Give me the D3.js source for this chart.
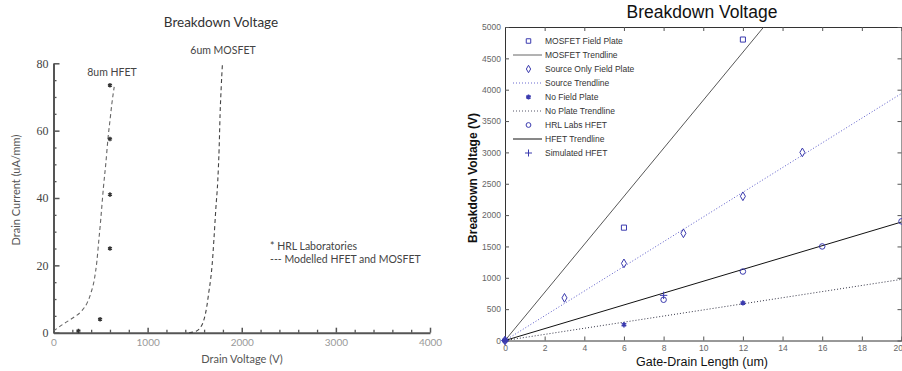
<!DOCTYPE html>
<html><head><meta charset="utf-8">
<script src="https://cdn.jsdelivr.net/npm/d3@7"></script>
<style>
html,body{margin:0;padding:0;background:#fff;}
svg{display:block;}
</style></head>
<body>
<svg id="chart" width="902" height="371"></svg>
<script>
// ---------- Left chart data ----------
const leftXTicks = [0, 1000, 2000, 3000, 4000];
const leftYTicks = [0, 20, 40, 60, 80];
const hrlPointsV = [600, 600, 600, 600, 495, 265];
const hrlPointsI = [73.5, 57.5, 41, 25, 4, 0.5];
const hfetModelV = [0, 100, 200, 300, 360, 400, 435, 460, 480, 500, 515, 530, 555, 580, 600, 620, 645];
const hfetModelI = [0.5, 2.5, 4.3, 6.5, 9, 12, 16, 21, 27, 33, 38, 43, 50, 58, 63, 68, 73];
const mosModelV = [1440, 1520, 1560, 1600, 1630, 1650, 1670, 1685, 1705, 1725, 1745, 1760, 1770, 1782, 1795];
const mosModelI = [0, 0.5, 1.5, 4, 8, 12, 16, 20, 28, 37, 45, 55, 65, 73, 80];

// ---------- Right chart data ----------
const rightXTicks = [0, 2, 4, 6, 8, 10, 12, 14, 16, 18, 20];
const rightYTicks = [0, 500, 1000, 1500, 2000, 2500, 3000, 3500, 4000, 4500, 5000];
const mosfetFpX = [6, 12];
const mosfetFpY = [1800, 4800];
const sourceFpX = [0, 3, 6, 9, 12, 15];
const sourceFpY = [0, 680, 1230, 1710, 2300, 3000];
const noFpX = [0, 6, 12];
const noFpY = [0, 250, 600];
const hrlHfetX = [0, 8, 12, 16, 20];
const hrlHfetY = [0, 650, 1100, 1500, 1900];
const simHfetX = [0, 8];
const simHfetY = [0, 720];
const mosfetTrendX = [0, 13.05];
const mosfetTrendY = [0, 5000];
const sourceTrendX = [0, 20];
const sourceTrendY = [0, 3940];
const noPlateTrendX = [0, 20];
const noPlateTrendY = [0, 975];
const hfetTrendX = [0, 20];
const hfetTrendY = [0, 1890];
const legendLabels = ["MOSFET Field Plate", "MOSFET Trendline", "Source Only Field Plate", "Source Trendline",
  "No Field Plate", "No Plate Trendline", "HRL Labs HFET", "HFET Trendline", "Simulated HFET"];

const zip = (a, b) => a.map((v, i) => [v, b[i]]);
const svg = d3.select("#chart");
const fmt = d3.format("d");

// =============== LEFT CHART ===============
(function () {
  const font = "Lato, 'Open Sans', sans-serif";
  const x = d3.scaleLinear([0, 4000], [53.5, 430]);
  const y = d3.scaleLinear([0, 80], [332.7, 63.3]);
  const g = svg.append("g");

  g.append("text").attr("x", 221).attr("y", 27).attr("text-anchor", "middle")
    .attr("font-family", font).attr("font-size", 13.5).attr("fill", "#333").text("Breakdown Voltage");

  // minor ticks
  const xMinor = d3.range(0, 4001, 200).filter(v => v % 1000 !== 0);
  const yMinor = d3.range(0, 81, 5).filter(v => v % 20 !== 0);
  g.append("g").attr("transform", `translate(0,${y(0)})`)
    .call(d3.axisBottom(x).tickValues(xMinor).tickFormat("").tickSizeInner(-3).tickSizeOuter(0))
    .call(s => s.select(".domain").remove())
    .call(s => s.selectAll("line").attr("stroke", "#555").attr("stroke-width", 1.3));
  g.append("g").attr("transform", `translate(${x(0)},0)`)
    .call(d3.axisLeft(y).tickValues(yMinor).tickFormat("").tickSizeInner(-3).tickSizeOuter(0))
    .call(s => s.select(".domain").remove())
    .call(s => s.selectAll("line").attr("stroke", "#555").attr("stroke-width", 1.3));

  // major axes
  const ax = g.append("g").attr("transform", `translate(0,${y(0)})`)
    .call(d3.axisBottom(x).tickValues(leftXTicks).tickFormat(fmt).tickSizeInner(-5).tickSizeOuter(0).tickPadding(6));
  ax.select(".domain").attr("stroke", "#555").attr("stroke-width", 2);
  ax.selectAll("line").attr("stroke", "#555").attr("stroke-width", 1.5);
  ax.selectAll("text").attr("font-family", font).attr("font-size", 10).attr("fill", "#999");

  const ay = g.append("g").attr("transform", `translate(${x(0)},0)`)
    .call(d3.axisLeft(y).tickValues(leftYTicks).tickFormat(fmt).tickSizeInner(-6).tickSizeOuter(0).tickPadding(5));
  ay.select(".domain").attr("stroke", "#555").attr("stroke-width", 2);
  ay.selectAll("line").attr("stroke", "#555").attr("stroke-width", 1.5);
  ay.selectAll("text").attr("font-family", "'Liberation Serif', serif").attr("font-size", 12).attr("fill", "#444");

  // axis titles
  g.append("text").attr("transform", "translate(20,190) rotate(-90)").attr("text-anchor", "middle")
    .attr("font-family", font).attr("font-size", 11).attr("fill", "#555").text("Drain Current (uA/mm)");
  g.append("text").attr("x", 242).attr("y", 363).attr("text-anchor", "middle")
    .attr("font-family", font).attr("font-size", 11).attr("fill", "#555").text("Drain Voltage (V)");

  // modelled curves
  const line = d3.line().x(d => x(d[0])).y(d => y(d[1])).curve(d3.curveMonotoneX);
  g.append("path").datum(zip(hfetModelV, hfetModelI)).attr("d", line)
    .attr("fill", "none").attr("stroke", "#666").attr("stroke-width", 1.1).attr("stroke-dasharray", "4,3");
  g.append("path").datum(zip(mosModelV, mosModelI)).attr("d", line)
    .attr("fill", "none").attr("stroke", "#444").attr("stroke-width", 1.1).attr("stroke-dasharray", "4,3");

  // HRL points
  g.selectAll("path.hrl").data(zip(hrlPointsV, hrlPointsI)).join("path").attr("class", "hrl")
    .attr("transform", d => `translate(${x(d[0])},${y(d[1])})`)
    .attr("d", d3.symbol(d3.symbolAsterisk, 14)).attr("fill", "none").attr("stroke", "#333").attr("stroke-width", 1.4);

  // labels
  g.append("text").attr("x", 223).attr("y", 54).attr("text-anchor", "middle")
    .attr("font-family", font).attr("font-size", 10.5).attr("fill", "#444").text("6um MOSFET");
  g.append("text").attr("x", 112).attr("y", 76).attr("text-anchor", "middle")
    .attr("font-family", font).attr("font-size", 10.5).attr("fill", "#444").text("8um HFET");
  g.append("text").attr("x", 270).attr("y", 250)
    .attr("font-family", font).attr("font-size", 10.5).attr("fill", "#444").text("* HRL Laboratories");
  g.append("text").attr("x", 270).attr("y", 263)
    .attr("font-family", font).attr("font-size", 10.5).attr("fill", "#444").text("--- Modelled HFET and MOSFET");
})();

// =============== RIGHT CHART ===============
(function () {
  const font = "'Liberation Sans', Arial, sans-serif";
  const blue = "#3a3aae";
  const x = d3.scaleLinear([0, 20], [505, 901.5]);
  const y = d3.scaleLinear([0, 5000], [340.5, 27]);
  const g = svg.append("g");

  g.append("text").attr("x", 702).attr("y", 18).attr("text-anchor", "middle")
    .attr("font-family", font).attr("font-size", 17.5).attr("fill", "#111").text("Breakdown Voltage");

  g.append("clipPath").attr("id", "rclip").append("rect")
    .attr("x", x(0)).attr("y", y(5000)).attr("width", x(20) - x(0)).attr("height", y(0) - y(5000));

  const styleAxis = s => {
    s.select(".domain").attr("stroke", "#333").attr("stroke-width", 1);
    s.selectAll("line").attr("stroke", "#555");
    s.selectAll("text").attr("font-family", font).attr("font-size", 8.5).attr("fill", "#666");
  };
  const bx = g.append("g").attr("transform", `translate(0,${y(0)})`)
    .call(d3.axisBottom(x).tickValues(rightXTicks).tickFormat(fmt).tickSizeInner(-4).tickSizeOuter(0).tickPadding(4)).call(styleAxis);
  // last label sits at the window edge: right-align it so it stays readable
  bx.selectAll(".tick text").filter(d => d === 20).attr("text-anchor", "end").attr("dx", 1);
  g.append("g").attr("transform", `translate(0,${y(5000)})`)
    .call(d3.axisTop(x).tickValues(rightXTicks).tickFormat("").tickSizeInner(-4).tickSizeOuter(0)).call(styleAxis);
  g.append("g").attr("transform", `translate(${x(0)},0)`)
    .call(d3.axisLeft(y).tickValues(rightYTicks).tickFormat(fmt).tickSizeInner(-4).tickSizeOuter(0).tickPadding(4)).call(styleAxis);
  g.append("g").attr("transform", `translate(${x(20)},0)`)
    .call(d3.axisRight(y).tickValues(rightYTicks).tickFormat("").tickSizeInner(-4).tickSizeOuter(0)).call(styleAxis);

  g.append("text").attr("transform", "translate(477,178) rotate(-90)").attr("text-anchor", "middle")
    .attr("font-family", font).attr("font-size", 12).attr("font-weight", "bold").attr("fill", "#111").text("Breakdown Voltage (V)");
  g.append("text").attr("x", 702).attr("y", 366).attr("text-anchor", "middle")
    .attr("font-family", font).attr("font-size", 12.5).attr("fill", "#111").text("Gate-Drain Length (um)");

  const plot = g.append("g").attr("clip-path", "url(#rclip)");
  const line = d3.line().x(d => x(d[0])).y(d => y(d[1]));
  plot.append("path").datum(zip(mosfetTrendX, mosfetTrendY)).attr("d", line)
    .attr("fill", "none").attr("stroke", "#444").attr("stroke-width", 0.9);
  plot.append("path").datum(zip(sourceTrendX, sourceTrendY)).attr("d", line)
    .attr("fill", "none").attr("stroke", "#5a5ac8").attr("stroke-width", 1).attr("stroke-dasharray", "1,2");
  plot.append("path").datum(zip(noPlateTrendX, noPlateTrendY)).attr("d", line)
    .attr("fill", "none").attr("stroke", "#334").attr("stroke-width", 1).attr("stroke-dasharray", "1,2");
  plot.append("path").datum(zip(hfetTrendX, hfetTrendY)).attr("d", line)
    .attr("fill", "none").attr("stroke", "#111").attr("stroke-width", 1);

  const mk = (xs, ys, sym, size, sw) => {
    g.append("g").selectAll("path").data(zip(xs, ys)).join("path")
      .attr("transform", d => `translate(${x(d[0])},${y(d[1])})`)
      .attr("d", d3.symbol(sym, size))
      .attr("fill", "none").attr("stroke", blue).attr("stroke-width", sw || 1);
  };
  mk(mosfetFpX, mosfetFpY, d3.symbolSquare, 26);
  mk(sourceFpX, sourceFpY, d3.symbolDiamond, 22);
  mk(noFpX, noFpY, d3.symbolAsterisk, 20, 1.5);
  mk(hrlHfetX, hrlHfetY, d3.symbolCircle, 24);
  mk(simHfetX, simHfetY, d3.symbolPlus, 20);

  // legend
  const lg = g.append("g");
  const rowY = i => 41 + i * 14;
  const kinds = [
    {t: "m", sym: d3.symbolSquare, size: 20},
    {t: "l", stroke: "#666", dash: null},
    {t: "m", sym: d3.symbolDiamond, size: 16},
    {t: "l", stroke: "#6a6ad0", dash: "1,2"},
    {t: "m", sym: d3.symbolAsterisk, size: 18, width: 1.6},
    {t: "l", stroke: "#556", dash: "1,2"},
    {t: "m", sym: d3.symbolCircle, size: 18},
    {t: "l", stroke: "#111", dash: null},
    {t: "m", sym: d3.symbolPlus, size: 18}
  ];
  legendLabels.forEach((lab, i) => {
    const k = kinds[i];
    if (k.t === "m") {
      lg.append("path").attr("transform", `translate(528.5,${rowY(i)})`).attr("d", d3.symbol(k.sym, k.size))
        .attr("fill", "none").attr("stroke", blue).attr("stroke-width", k.width || 1);
    } else {
      lg.append("line").attr("x1", 513).attr("x2", 542).attr("y1", rowY(i)).attr("y2", rowY(i))
        .attr("stroke", k.stroke).attr("stroke-width", 1).attr("stroke-dasharray", k.dash);
    }
    lg.append("text").attr("x", 545).attr("y", rowY(i) + 3.2)
      .attr("font-family", font).attr("font-size", 8.5).attr("fill", "#333").text(lab);
  });
})();
</script>
</body></html>
